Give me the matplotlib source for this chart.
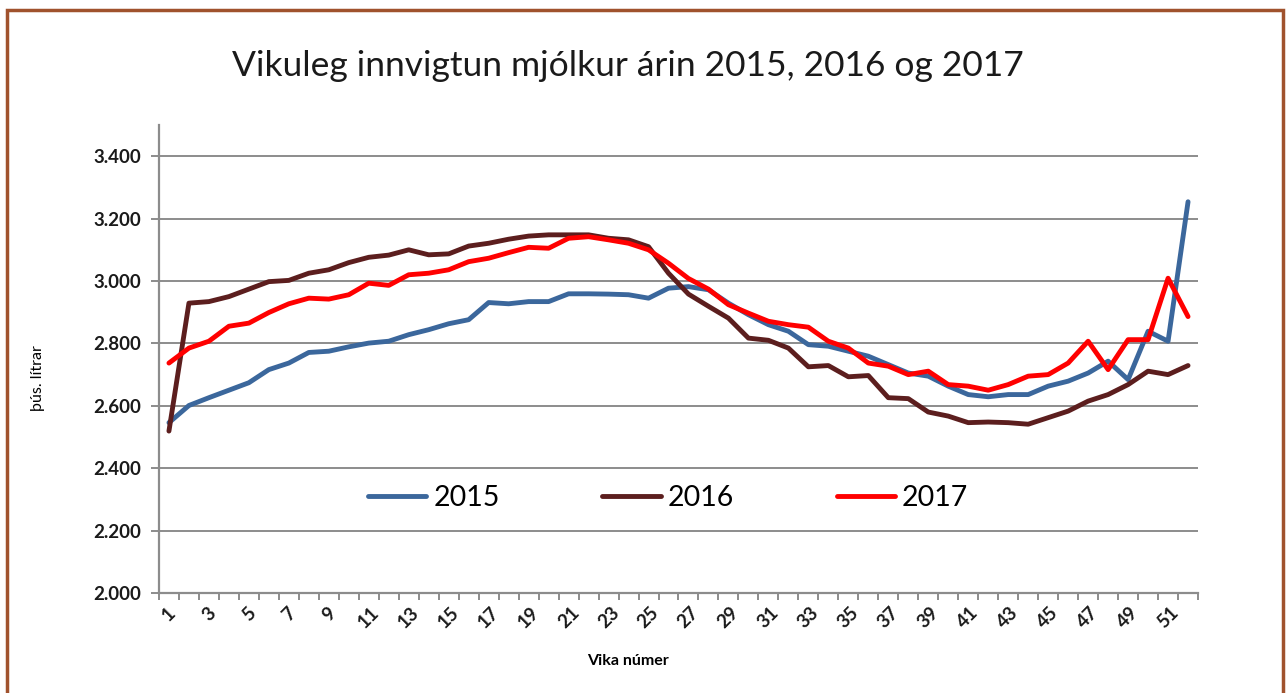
import matplotlib.pyplot as plt
from matplotlib.patches import Rectangle
from matplotlib.ticker import FuncFormatter, MultipleLocator

# vikur 1-52, innvigtun í þús. lítrum
weeks = list(range(1, 53))

milk_2015 = [2546, 2601, 2626, 2650, 2674, 2716, 2737, 2771, 2775, 2789,
             2801, 2807, 2828, 2844, 2863, 2876, 2931, 2927, 2934, 2934,
             2959, 2959, 2958, 2956, 2945, 2977, 2982, 2972, 2929, 2892,
             2860, 2839, 2796, 2791, 2775, 2759, 2732, 2705, 2695, 2663,
             2636, 2629, 2636, 2636, 2663, 2679, 2705, 2743, 2684, 2839,
             2807, 3254]

milk_2016 = [2519, 2929, 2934, 2950, 2974, 2998, 3002, 3025, 3036, 3059,
             3076, 3083, 3100, 3084, 3087, 3112, 3121, 3134, 3144, 3148,
             3148, 3148, 3137, 3132, 3110, 3025, 2958, 2919, 2881, 2817,
             2810, 2785, 2725, 2729, 2693, 2697, 2626, 2623, 2580, 2567,
             2546, 2548, 2546, 2541, 2562, 2583, 2615, 2636, 2668, 2711,
             2700, 2729]

milk_2017 = [2737, 2785, 2807, 2855, 2865, 2899, 2927, 2945, 2942, 2956,
             2993, 2986, 3020, 3025, 3036, 3062, 3073, 3091, 3108, 3105,
             3137, 3142, 3132, 3121, 3100, 3057, 3008, 2974, 2924, 2897,
             2871, 2860, 2852, 2807, 2785, 2737, 2727, 2700, 2711, 2668,
             2663, 2650, 2668, 2695, 2700, 2737, 2807, 2716, 2812, 2812,
             3009, 2886]

years = ['2015', '2016', '2017']
colors = ['#3B679C', '#5C1E1E', '#FF0000']

plt.rcParams['font.family'] = ['Lato', 'DejaVu Sans']

fig = plt.figure(figsize=(12.86, 6.93), dpi=100)
ax = fig.add_axes([0.1236, 0.1443, 0.808, 0.6753])

for vals, name, c in zip([milk_2015, milk_2016, milk_2017], years, colors):
    ax.plot(weeks, vals, color=c, lw=3.5, label=name, solid_capstyle='round',
            solid_joinstyle='round')

ax.set_xlim(0.5, 52.5)
ax.set_ylim(2000, 3500)
ax.set_yticks(range(2000, 3401, 200))
ax.yaxis.set_major_formatter(FuncFormatter(lambda v, p: '{:,.0f}'.format(v).replace(',', '.')))
ax.grid(axis='y', color='#8C8C8C', lw=1.4)
ax.set_axisbelow(True)

ax.set_xticks(weeks[::2])
ax.set_xticklabels([str(w) for w in weeks[::2]], rotation=45, ha='center', va='top')
ax.xaxis.set_minor_locator(MultipleLocator(1, offset=0.5))
ax.tick_params(axis='x', which='major', length=0, pad=8)
ax.tick_params(axis='x', which='minor', length=5, width=1.4, color='#8C8C8C')
ax.tick_params(axis='y', length=6, width=1.4, color='#8C8C8C', pad=7)
for lab in ax.get_xticklabels() + ax.get_yticklabels():
    lab.set_fontweight('bold')
    lab.set_fontsize(13.5)
    lab.set_color('#1a1a1a')

for s in ['top', 'right']:
    ax.spines[s].set_visible(False)
for s in ['left', 'bottom']:
    ax.spines[s].set_color('#8C8C8C')
    ax.spines[s].set_linewidth(1.6)

ax.set_xlabel('Vika númer', fontweight='bold', fontsize=11.5)
ax.xaxis.set_label_coords(0.451, -0.13)
ax.set_ylabel('þús. lítrar', fontsize=11.5)
ax.yaxis.set_label_coords(-0.11, 0.46)

fig.text(0.488, 0.905, 'Vikuleg innvigtun mjólkur árin 2015, 2016 og 2017',
         ha='center', va='center', fontsize=25.5, color='#1a1a1a')

ax.legend(loc='center', bbox_to_anchor=(0.49, 0.203), ncol=3, frameon=False,
          fontsize=20.5, handlelength=2.05, columnspacing=3.6, handletextpad=0.25)

fig.patches.append(Rectangle((7 / 1286, -0.02), 1276 / 1286, 1.02 - 10 / 693,
                             transform=fig.transFigure, fill=False,
                             edgecolor='#A0522D', lw=2.5))

fig.savefig('out.png', dpi=100, facecolor='white')
